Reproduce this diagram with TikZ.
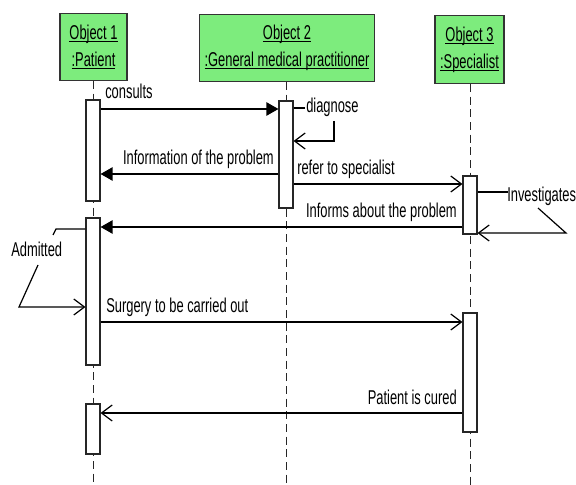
\documentclass[tikz,border=0pt]{standalone}
\usepackage{fontspec}
\setmainfont{Liberation Sans}[FakeStretch=0.645]
\usetikzlibrary{arrows.meta,fit,backgrounds}
\definecolor{objgreen}{RGB}{125,236,125}
% underlined object name
\newcommand\objname[1]{\setbox0\hbox{#1}\rlap{\rule[-1.8pt]{\wd0}{0.7pt}}\box0}
\begin{document}
\begin{tikzpicture}[x=0.75pt, y=-0.75pt,
  font=\fontsize{15}{20.25}\selectfont,
  objbox/.style={draw=black!80, fill=objgreen, line width=0.8pt, align=center, inner sep=0pt},
  act/.style={draw=black!85, fill=white, line width=0.8pt, inner sep=0pt},
  lifeline/.style={draw=black!85, line width=0.7pt, dash pattern=on 6pt off 3.5pt},
  msg/.style={line width=0.9pt},
  sync/.style={msg, -{Triangle[length=9pt,width=10pt]}},
  async/.style={msg, -{Straight Barb[length=8pt,width=12pt,line width=0.9pt]}},
  lbl/.style={inner sep=0pt, anchor=base west},
  lblr/.style={inner sep=0pt, anchor=base east}]
\useasboundingbox (0,0) rectangle (576,485);

% objects
\node[objbox, minimum width=50.25pt, minimum height=50.25pt] (o1) at (93.5,47)
  {\objname{Object 1}\\\objname{:Patient}};
\node[objbox, minimum width=131.25pt, minimum height=50.25pt] (o2) at (287,48)
  {\objname{Object 2}\\\objname{:General medical practitioner}};
\node[objbox, minimum width=51.75pt, minimum height=51pt] (o3) at (469.5,49.5)
  {\objname{Object 3}\\\objname{:Specialist}};

% activation bars
\node[act, fit={(86,100) (100,201)}] (p1) {};
\node[act, fit={(86,218) (100,365)}] (p2) {};
\node[act, fit={(86,404) (100,454)}] (p3) {};
\node[act, fit={(279,101) (293,208)}] (g1) {};
\node[act, fit={(463,176) (477,234)}] (s1) {};
\node[act, fit={(463,313) (477,432)}] (s2) {};

% lifelines
\coordinate (e1) at (p1.south |- 0,485);
\coordinate (e2) at (g1.south |- 0,485);
\coordinate (e3) at (s1.south |- 0,485);
\begin{scope}[on background layer]
  \fill[white] (0,0) rectangle (576,485);
  \draw[lifeline] (p1.north |- o1.south) -- (e1);
  \draw[lifeline] (g1.north |- o2.south) -- (e2);
  \draw[lifeline] (s1.north |- o3.south) -- (e3);
\end{scope}

% consults
\draw[sync] (p1.east |- 0,109) -- (g1.west |- 0,109);
\node[lbl] (t1) at (105,99) {consults};

% diagnose (self call)
\coordinate (d1) at (305,108);
\coordinate (d2) at (334,121);
\coordinate (d3) at (334,141);
\draw[msg] (g1.east |- d1) -- (d1);
\node[lbl] (t2) at (306,113) {diagnose};
\draw[async] (d2) -- (d3) -- (g1.east |- d3);

% information of the problem
\draw[sync] (g1.west |- 0,174) -- (p1.east |- 0,174);
\node[lblr] (t3) at (274,165) {Information of the problem};

% refer to specialist
\draw[async] (g1.east |- 0,184) -- (s1.west |- 0,184);
\node[lbl] (t4) at (297,175) {refer to specialist};

% investigates (self call)
\coordinate (i1) at (508,192);
\coordinate (i2) at (538,208);
\coordinate (i3) at (566,233);
\draw[msg] (s1.east |- i1) -- (i1);
\node[lbl] (t5) at (507,202) {Investigates};
\draw[async] (i2) -- (i3) -- (s1.east |- i3);

% informs about the problem
\draw[sync] (s1.west |- 0,227) -- (p2.east |- 0,227);
\node[lblr] (t6) at (457,218) {Informs about the problem};

% admitted (self call)
\coordinate (a1) at (56,229);
\coordinate (a2) at (53,235);
\coordinate (a3) at (38,265);
\coordinate (a4) at (19,307);
\draw[msg] (p2.west |- a1) -- (a1) -- (a2);
\node[lbl] (t7) at (11,257) {Admitted};
\draw[async] (a3) -- (a4) -- (p2.west |- a4);

% surgery
\draw[async] (p2.east |- 0,322) -- (s2.west |- 0,322);
\node[lbl] (t8) at (106,312) {Surgery to be carried out};

% patient is cured
\draw[async] (s2.west |- 0,413) -- (p3.east |- 0,413);
\node[lblr] (t9) at (457,404) {Patient is cured};
\end{tikzpicture}
\end{document}
